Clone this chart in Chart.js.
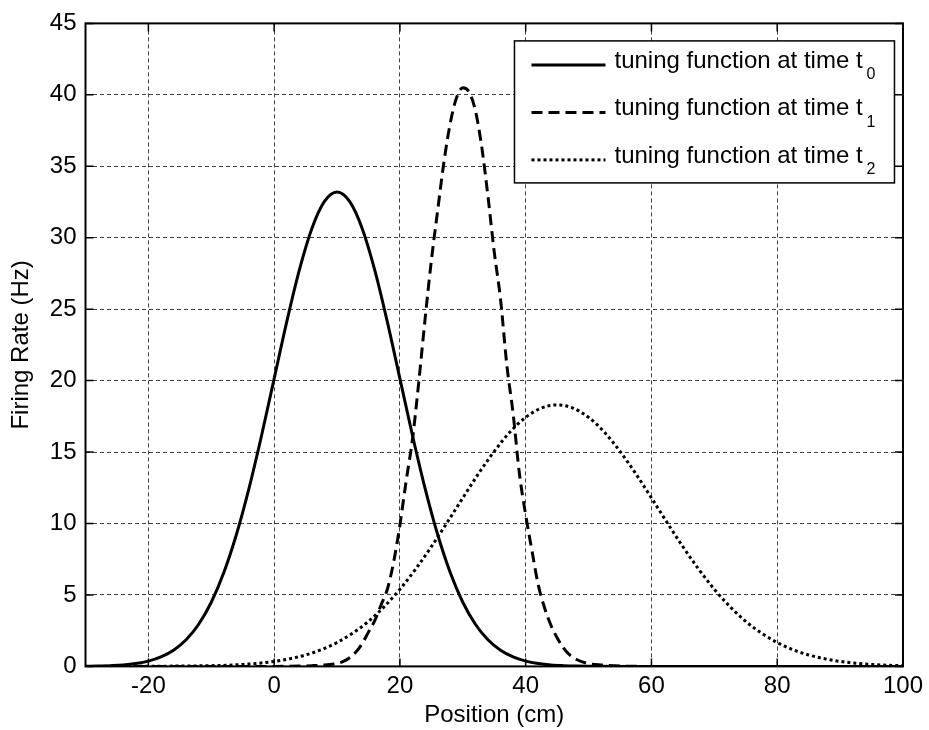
<!DOCTYPE html>
<html>
<head>
<meta charset="utf-8">
<title>Tuning functions</title>
<script src="https://cdn.jsdelivr.net/npm/chart.js@4.4.1/dist/chart.umd.min.js"></script>
<style>
  html, body { margin: 0; padding: 0; background: #fff; }
</style>
</head>
<body>
<canvas id="tuningChart" width="929" height="730"></canvas>
<script>
// position (cm) / firing rate (Hz) samples for each curve
const t0Pos = [-30, -28, -26, -24, -22, -20, -18, -16, -14, -12, -10, -8, -6, -4, -2,
  0, 2, 4, 6, 8, 10, 12, 14, 16, 18, 20, 22, 24, 26, 28, 30, 32, 34, 36, 38, 40,
  42, 44, 46, 48, 50, 60, 70, 80, 90, 100];
const t0Rate = [0.01, 0.02, 0.05, 0.10, 0.20, 0.37, 0.66, 1.13, 1.86, 2.95, 4.49, 6.57, 9.23, 12.46, 16.16,
  20.14, 24.11, 27.73, 30.65, 32.54, 33.2, 32.54, 30.65, 27.73, 24.11, 20.14, 16.16, 12.46, 9.23, 6.57, 4.49, 2.95, 1.86, 1.13, 0.66, 0.37,
  0.20, 0.10, 0.05, 0.02, 0.01, 0, 0, 0, 0, 0];

const t1Pos = [-30, -20, -10, 0, 4, 6, 8,
  10, 11, 12, 13, 14, 15, 16, 17, 18, 19,
  20, 21, 22, 23, 24, 25, 26, 27, 28, 29,
  30, 31, 32, 33, 34, 35, 36, 37, 38, 39,
  40, 41, 42, 43, 44, 45, 46, 47, 48,
  50, 52, 55, 60, 70, 80, 90, 100];
const t1Rate = [0, 0, 0, 0, 0.02, 0.05, 0.1,
  0.2, 0.35, 0.6, 1.0, 1.6, 2.4, 3.2, 4.3, 5.4, 7.3,
  9.9, 13.0, 15.9, 19.9, 24.3, 28.4, 31.9, 35.3, 38.0, 39.8,
  40.5, 40.2, 38.9, 36.4, 32.9, 29.0, 25.7, 21.1, 17.7, 13.5,
  10.6, 8.1, 5.7, 4.1, 2.9, 2.0, 1.3, 0.8, 0.5,
  0.2, 0.1, 0.03, 0, 0, 0, 0, 0];

const t2Pos = [-30, -20, -10, -7.5, -5, -2.5, 0, 2.5, 5, 7.5, 10, 12.5, 15, 17.5,
  20, 22.5, 25, 27.5, 30, 32.5, 35, 37.5, 40, 42.5, 45, 47.5, 50, 52.5, 55, 57.5,
  60, 62.5, 65, 67.5, 70, 72.5, 75, 77.5, 80, 82.5, 85, 87.5, 90, 92.5, 95, 97.5, 100];
const t2Rate = [0, 0.01, 0.05, 0.08, 0.14, 0.22, 0.35, 0.54, 0.80, 1.17, 1.67, 2.33, 3.15, 4.18,
  5.40, 6.81, 8.38, 10.06, 11.79, 13.49, 15.05, 16.40, 17.43, 18.08, 18.30, 18.08, 17.43, 16.40, 15.05, 13.49,
  11.79, 10.06, 8.38, 6.81, 5.40, 4.18, 3.15, 2.33, 1.67, 1.17, 0.80, 0.54, 0.35, 0.22, 0.14, 0.08, 0.05];

const xTicks = [-20, 0, 20, 40, 60, 80, 100];
const yTicks = [0, 5, 10, 15, 20, 25, 30, 35, 40, 45];

const seriesName = "tuning function at time t";
const seriesSub = ["0", "1", "2"];

const FONT = '"Liberation Sans", Arial, Helvetica, sans-serif';

function points(xs, ys) {
  return xs.map((x, i) => ({ x: x, y: ys[i] }));
}

// frame, inward tick marks and the boxed legend with subscripts
const axesBox = {
  id: "axesBox",
  afterDatasetsDraw(chart) {
    const ctx = chart.ctx;
    const a = chart.chartArea;
    const sx = chart.scales.x;
    const sy = chart.scales.y;
    const tickLen = 8;

    ctx.save();
    ctx.strokeStyle = "#000";
    ctx.lineWidth = 1.5;
    ctx.setLineDash([]);
    ctx.beginPath();
    sx.ticks.forEach((t) => {
      const px = sx.getPixelForValue(t.value);
      ctx.moveTo(px, a.bottom); ctx.lineTo(px, a.bottom - tickLen);
      ctx.moveTo(px, a.top); ctx.lineTo(px, a.top + tickLen);
    });
    sy.ticks.forEach((t) => {
      const py = sy.getPixelForValue(t.value);
      ctx.moveTo(a.left, py); ctx.lineTo(a.left + tickLen, py);
      ctx.moveTo(a.right, py); ctx.lineTo(a.right - tickLen, py);
    });
    ctx.stroke();

    ctx.lineWidth = 2;
    ctx.strokeRect(a.left, a.top, a.right - a.left, a.bottom - a.top);

    // legend
    const boxW = 380, boxH = 142;
    const bx = a.right - 8.5 - boxW;
    const by = a.top + 17.5;
    ctx.fillStyle = "#fff";
    ctx.fillRect(bx, by, boxW, boxH);
    ctx.lineWidth = 1.5;
    ctx.strokeRect(bx, by, boxW, boxH);

    chart.data.datasets.forEach((ds, i) => {
      const rowY = by + 24 + i * 47.5;
      ctx.beginPath();
      ctx.lineWidth = ds.borderWidth;
      ctx.setLineDash(ds.borderDash || []);
      ctx.moveTo(bx + 17, rowY);
      ctx.lineTo(bx + 91, rowY);
      ctx.stroke();
      ctx.setLineDash([]);

      ctx.fillStyle = "#000";
      ctx.textAlign = "left";
      ctx.textBaseline = "alphabetic";
      ctx.font = "24px " + FONT;
      const tx = bx + 100;
      ctx.fillText(seriesName, tx, rowY + 3);
      const w = ctx.measureText(seriesName).width;
      ctx.font = "16px " + FONT;
      ctx.fillText(seriesSub[i], tx + w + 4, rowY + 14.5);
    });
    ctx.restore();
  }
};

const lineStyle = {
  borderColor: "#000",
  backgroundColor: "#000",
  borderWidth: 3,
  pointRadius: 0,
  fill: false,
  cubicInterpolationMode: "monotone"
};

const chart = new Chart(document.getElementById("tuningChart"), {
  type: "line",
  data: {
    datasets: [
      Object.assign({ label: seriesName + seriesSub[0], data: points(t0Pos, t0Rate) }, lineStyle),
      Object.assign({ label: seriesName + seriesSub[1], data: points(t1Pos, t1Rate), borderDash: [11, 6] }, lineStyle),
      Object.assign({ label: seriesName + seriesSub[2], data: points(t2Pos, t2Rate), borderDash: [3, 3] }, lineStyle)
    ]
  },
  options: {
    responsive: false,
    animation: false,
    layout: { padding: { left: 0, top: 20.7, right: 23.5, bottom: 0 } },
    plugins: {
      legend: { display: false },
      tooltip: { enabled: false }
    },
    scales: {
      x: {
        type: "linear",
        min: -30,
        max: 100,
        afterBuildTicks: (s) => { s.ticks = xTicks.map((v) => ({ value: v })); },
        afterFit: (s) => { s.height = 63.6; },
        ticks: { color: "#000", font: { size: 24, family: FONT }, padding: 6, maxRotation: 0 },
        grid: { color: "rgba(0,0,0,0.75)", lineWidth: 1, drawTicks: false },
        border: { display: false, dash: [4, 3] },
        title: {
          display: true,
          text: "Position (cm)",
          color: "#000",
          font: { size: 24, family: FONT },
          padding: { top: 0, bottom: 0 }
        }
      },
      y: {
        type: "linear",
        min: 0,
        max: 45,
        afterBuildTicks: (s) => { s.ticks = yTicks.map((v) => ({ value: v })); },
        afterFit: (s) => { s.width = 85.5; },
        ticks: { color: "#000", font: { size: 24, family: FONT }, padding: 9 },
        grid: { color: "rgba(0,0,0,0.75)", lineWidth: 1, drawTicks: false },
        border: { display: false, dash: [4, 3] },
        title: {
          display: true,
          text: "Firing Rate (Hz)",
          color: "#000",
          font: { size: 24, family: FONT },
          padding: { top: 7, bottom: 0 }
        }
      }
    }
  },
  plugins: [axesBox]
});
</script>
</body>
</html>
